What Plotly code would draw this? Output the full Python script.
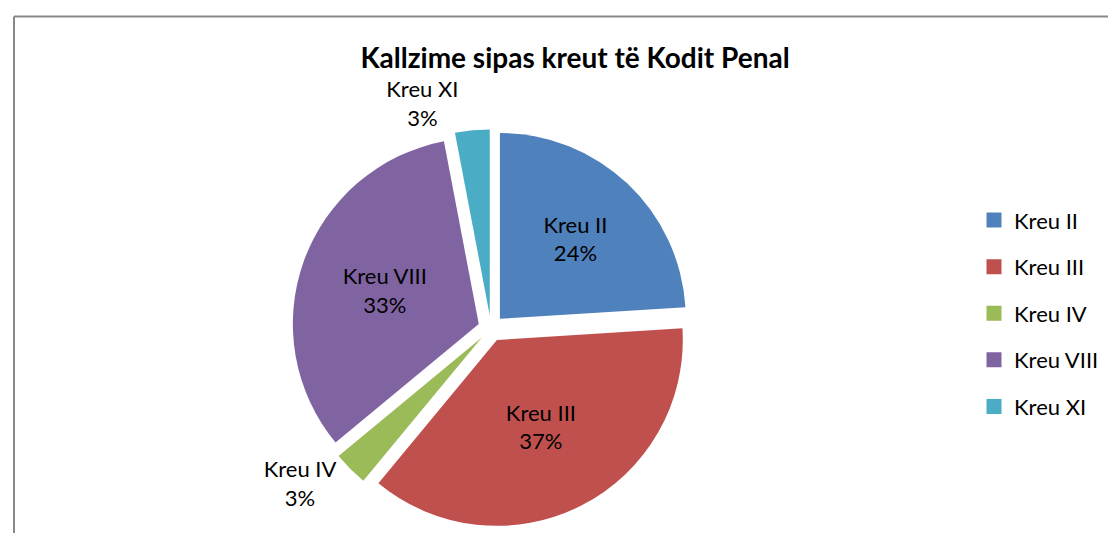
import plotly.graph_objects as go

categories = ["Kreu II", "Kreu III", "Kreu IV", "Kreu VIII", "Kreu XI"]
values = [24, 37, 3, 33, 3]
colors = ["#4F81BD", "#C0504D", "#9BBB59", "#8064A2", "#4BACC6"]
text_positions = ["inside", "inside", "outside", "inside", "outside"]
title_text = "Kallzime sipas kreut të Kodit Penal"

W, H = 1116, 549
FONT = "Lato, Open Sans, sans-serif"

CX, CY, R = 483, 335, 208

fig = go.Figure()

fig.add_trace(go.Pie(
    labels=categories,
    values=values,
    sort=False,
    direction="clockwise",
    rotation=0,
    marker=dict(colors=colors, line=dict(color="white", width=0)),
    pull=[0.07] * len(values),
    texttemplate="%{label}<br>%{percent:.0%}",
    textposition=text_positions,
    insidetextorientation="horizontal",
    textfont=dict(family=FONT, size=22, color="black"),
    outsidetextfont=dict(family=FONT, size=22, color="black"),
    insidetextfont=dict(family=FONT, size=22, color="black"),
    showlegend=False,
    hoverinfo="label+percent",
    domain=dict(x=[(CX - R) / W, (CX + R) / W],
                y=[max(0.0, (H - CY - R) / H), min(1.0, (H - CY + R) / H)]),
))

# legend entries (square markers) for each category
for cat, col in zip(categories, colors):
    fig.add_trace(go.Scatter(
        x=[None], y=[None], mode="markers",
        marker=dict(symbol="square", size=15, color=col),
        name=cat, legendgroup=cat, showlegend=True,
    ))

fig.update_layout(
    width=W, height=H,
    margin=dict(l=0, r=0, t=0, b=0),
    paper_bgcolor="white",
    plot_bgcolor="white",
    title=dict(text="<b>" + title_text + "</b>", x=567 / W, xanchor="center",
               y=1 - 50 / H, yanchor="middle",
               font=dict(family=FONT, size=28, color="black")),
    xaxis=dict(visible=False),
    yaxis=dict(visible=False),
    legend=dict(x=966 / W, xanchor="left", y=1 - 200 / H, yanchor="top",
                font=dict(family=FONT, size=22, color="black"),
                tracegroupgap=15, itemwidth=30, bgcolor="rgba(0,0,0,0)"),
    shapes=[
        dict(type="line", xref="paper", yref="paper",
             x0=6 / W, x1=1.0, y0=1 - 9 / H, y1=1 - 9 / H,
             line=dict(color="#888888", width=2)),
        dict(type="line", xref="paper", yref="paper",
             x0=6 / W, x1=6 / W, y0=1 - 9 / H, y1=0,
             line=dict(color="#888888", width=2)),
    ],
)

fig.write_html("out.html")
